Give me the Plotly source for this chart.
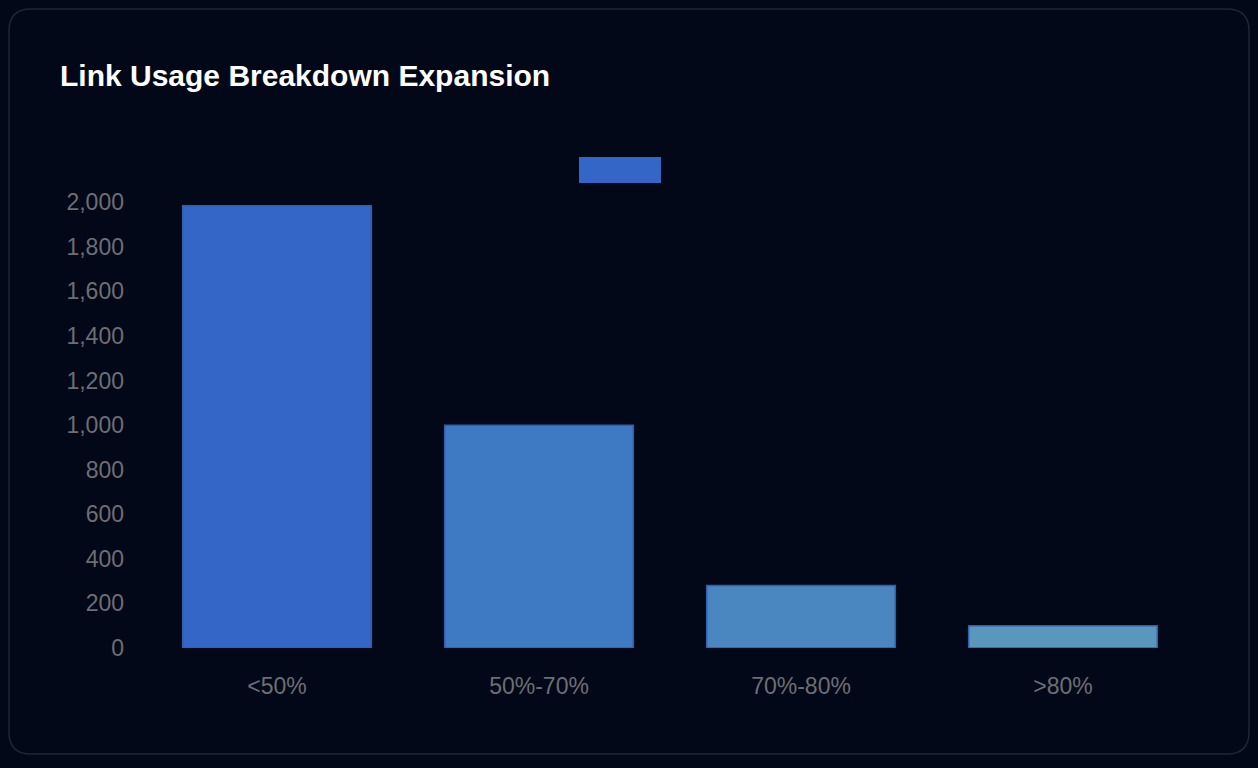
import plotly.graph_objs as go

# data
categories = ["<50%", "50%-70%", "70%-80%", ">80%"]
link_counts = [1985, 1000, 280, 100]
bar_colors = ["#3366c6", "#3d7ac3", "#4a86bf", "#5a97bc"]

BG = "#030818"
TICK_GREY = "#6c6e74"
FONT = "Liberation Sans, Helvetica, Arial, sans-serif"

W, H = 1258, 768
L, R, T, B = 146, 64, 180, 120
PW, PH = W - L - R, H - T - B


def px_x(x):
    # container pixel -> paper x
    return (x - L) / PW


def px_y(y):
    # container pixel -> paper y
    return (H - B - y) / PH


fig = go.Figure()
fig.add_trace(go.Bar(
    x=categories,
    y=link_counts,
    marker=dict(color=bar_colors, line=dict(color="#2f5fae", width=1.5)),
    showlegend=False,
    hoverinfo="x+y",
))

fig.update_layout(
    width=W,
    height=H,
    paper_bgcolor=BG,
    plot_bgcolor=BG,
    margin=dict(l=L, r=R, t=T, b=B),
    bargap=0.28,
    font=dict(family=FONT, color=TICK_GREY, size=23),
    title=dict(
        text="<b>Link Usage Breakdown Expansion</b>",
        x=60 / W, xanchor="left",
        y=1 - 75 / H, yanchor="middle",
        font=dict(family=FONT, size=30, color="#ffffff"),
    ),
    xaxis=dict(
        showgrid=False, zeroline=False, showline=False,
        ticks="", ticklabelstandoff=22,
        tickfont=dict(size=23, color=TICK_GREY),
    ),
    yaxis=dict(
        range=[0, 2100], dtick=200, tickformat=",d",
        showgrid=False, zeroline=False, showline=False,
        ticks="", ticklabelstandoff=21,
        tickfont=dict(size=23, color=TICK_GREY),
    ),
)

# card frame with rounded corners
x0, x1 = px_x(9), px_x(1249)
y0, y1 = px_y(9), px_y(754)
rx, ry = 22 / PW, 22 / PH
path = (
    f"M {x0 + rx},{y0} L {x1 - rx},{y0} Q {x1},{y0} {x1},{y0 - ry} "
    f"L {x1},{y1 + ry} Q {x1},{y1} {x1 - rx},{y1} "
    f"L {x0 + rx},{y1} Q {x0},{y1} {x0},{y1 + ry} "
    f"L {x0},{y0 - ry} Q {x0},{y0} {x0 + rx},{y0} Z"
)
fig.add_shape(type="path", path=path, xref="paper", yref="paper",
              line=dict(color="#1f2636", width=1.5), layer="below")

# legend swatch (single unnamed series)
fig.add_shape(type="rect", xref="paper", yref="paper",
              x0=px_x(579), x1=px_x(661), y0=px_y(183), y1=px_y(157),
              fillcolor=bar_colors[0], line=dict(width=0))

fig.write_html("out.html", config={"displayModeBar": False},
               post_script="document.body.style.margin='0';")
